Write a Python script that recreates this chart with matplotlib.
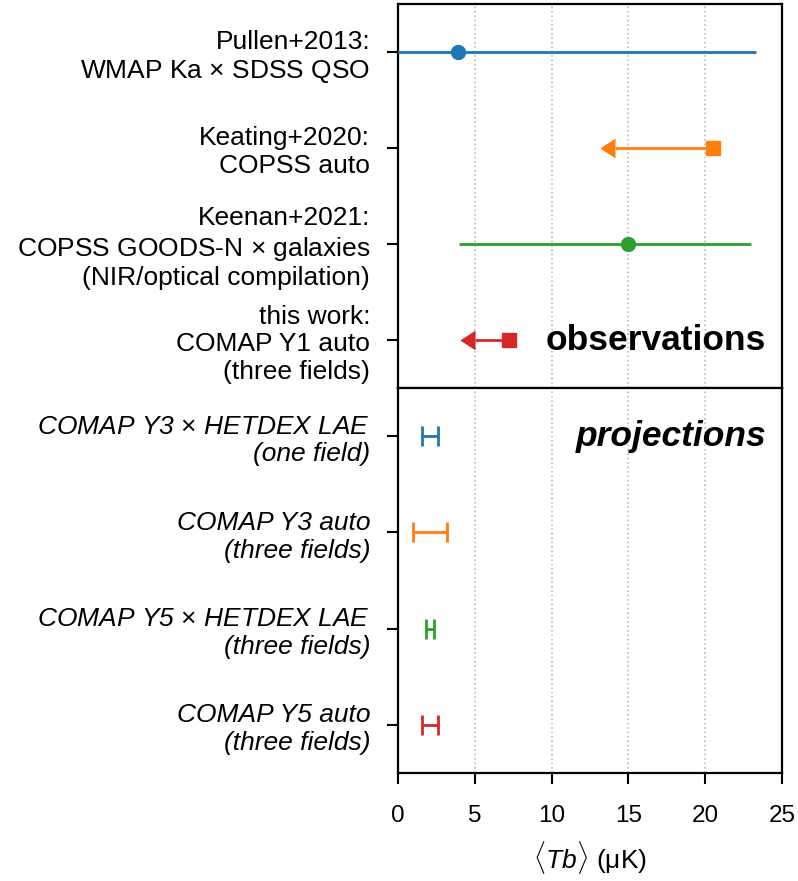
import matplotlib
matplotlib.use("Agg")
import matplotlib.pyplot as plt

plt.rcParams['font.family'] = ['Liberation Sans', 'DejaVu Sans']
plt.rcParams['mathtext.fontset'] = 'custom'
plt.rcParams['mathtext.rm'] = 'Liberation Sans'
plt.rcParams['mathtext.it'] = 'Liberation Sans:italic'
plt.rcParams['mathtext.bf'] = 'Liberation Sans:bold'

# ---- data ----
obs_labels = [
    "Pullen+2013:\nWMAP Ka $\\times$ SDSS QSO",
    "Keating+2020:\nCOPSS auto",
    "Keenan+2021:\nCOPSS GOODS-N $\\times$ galaxies\n(NIR/optical compilation)",
    "this work:\nCOMAP Y1 auto\n(three fields)",
]
obs_values = [3.9, 20.5, 15.0, 7.2]
obs_err_lo = [4.5, 6.4, 11.0, 2.2]
obs_err_hi = [19.4, 0.0, 8.0, 0.0]
obs_upper_limit = [False, True, False, True]
obs_markers = ['o', 's', 'o', 's']

proj_labels = [
    "COMAP Y3 $\\times$ HETDEX LAE\n(one field)",
    "COMAP Y3 auto\n(three fields)",
    "COMAP Y5 $\\times$ HETDEX LAE\n(three fields)",
    "COMAP Y5 auto\n(three fields)",
]
proj_values = [2.1, 2.08, 2.1, 2.1]
proj_err = [0.52, 1.08, 0.27, 0.52]

colors = ['#1f77b4', '#ff7f0e', '#2ca02c', '#d62728']
xticks = [0, 5, 10, 15, 20, 25]

fig = plt.figure(figsize=(7.98, 8.81), dpi=100)
left, right = 398 / 798, 782 / 798
top, mid, bot = 1 - 4 / 881, 1 - 388 / 881, 1 - 773 / 881
ax1 = fig.add_axes([left, mid, right - left, top - mid])
ax2 = fig.add_axes([left, bot, right - left, mid - bot], sharex=ax1)

fs = 19
for ax in (ax1, ax2):
    ax.set_xlim(0, 25)
    ax.set_ylim(3.5, -0.5)
    ax.set_yticks(range(4))
    ax.xaxis.grid(True, linestyle=':', color='#bbbbbb', linewidth=1.2)
    ax.set_axisbelow(True)
    for s in ax.spines.values():
        s.set_linewidth(1.6)
    ax.tick_params(axis='y', length=8, width=1.5, labelsize=fs, pad=12)
    ax.tick_params(axis='x', length=8, width=1.5, labelsize=17.5, pad=15)

for i in range(4):
    _, caps, _ = ax1.errorbar(obs_values[i], i,
                              xerr=[[obs_err_lo[i]], [obs_err_hi[i]]],
                              xuplims=obs_upper_limit[i],
                              fmt=obs_markers[i], color=colors[i], markersize=10,
                              elinewidth=2,
                              capsize=6.5 if obs_upper_limit[i] else 0,
                              zorder=3)
    for c in caps:
        if c.get_marker() == '|':
            c.set_visible(False)

for i in range(4):
    ax2.errorbar(proj_values[i], i, xerr=proj_err[i], fmt='none',
                 ecolor=colors[i], elinewidth=2, capsize=7, capthick=2,
                 zorder=3)

ax1.set_yticklabels(obs_labels, fontsize=fs)
ax2.set_yticklabels(proj_labels, fontsize=fs, style='italic')
ax1.tick_params(axis='x', which='both', bottom=False, labelbottom=False)
ax2.set_xticks(xticks)
ax2.set_xlabel(r'$\langle Tb\rangle$ (μK)', fontsize=fs, labelpad=9)

ax1.text(0.958, 3, 'observations', transform=ax1.get_yaxis_transform(),
         ha='right', va='center', fontsize=25.5, fontweight='bold')
ax2.text(0.96, 0, 'projections', transform=ax2.get_yaxis_transform(),
         ha='right', va='center', fontsize=25.5, fontweight='bold',
         style='italic')

fig.savefig('out.png', dpi=100)
